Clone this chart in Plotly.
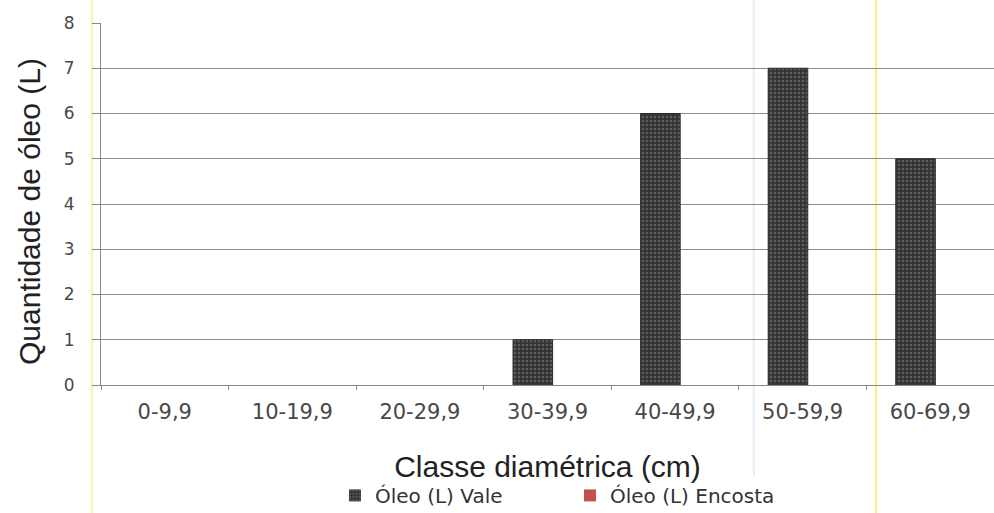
import plotly.graph_objects as go

# Diameter classes and oil volume per class
classes = ["0-9,9", "10-19,9", "20-29,9", "30-39,9", "40-49,9", "50-59,9", "60-69,9"]
oleo_vale = [0, 0, 0, 1, 6, 7, 5]
oleo_encosta = [0, 0, 0, 0, 0, 0, 0]
y_ticks = [0, 1, 2, 3, 4, 5, 6, 7, 8]

fig = go.Figure()
fig.add_trace(go.Bar(
    x=classes, y=oleo_vale, name="Óleo (L) Vale",
    width=0.31, offset=-0.27,
    marker=dict(
        color="#3a3a3a",
        line=dict(color="#2a2a2a", width=[1 if v else 0 for v in oleo_vale]),
        pattern=dict(shape=".", fgcolor="#8a8a8a", bgcolor="#333333", size=4, solidity=0.35),
    ),
))
fig.add_trace(go.Bar(
    x=classes, y=oleo_encosta, name="Óleo (L) Encosta",
    width=0.31, offset=0.06,
    marker=dict(color="#c0504d", line=dict(width=0)),
))

# Faint vertical page rules
for xp, col in [(-0.01, "#fbf5b0"), (0.731, "#e4ecf7"), (0.868, "#f3ee8a")]:
    fig.add_shape(type="line", xref="paper", yref="paper", x0=xp, x1=xp, y0=-0.4, y1=1.1,
                  line=dict(color=col, width=2), layer="below")

# Vertical axis title
fig.add_annotation(
    text="Quantidade de óleo (L)", textangle=-90,
    xref="paper", yref="paper", x=-0.0795, y=0.478, xanchor="center", yanchor="middle",
    showarrow=False, font=dict(family="Liberation Sans, Arial", size=30, color="#222222"),
)

fig.update_layout(
    width=994, height=513,
    margin=dict(l=101, r=0, t=23, b=128, autoexpand=False),
    paper_bgcolor="white", plot_bgcolor="white",
    font=dict(family="Liberation Sans, Arial", color="#333333"),
    barmode="overlay",
    showlegend=True,
    legend=dict(orientation="h", x=0.262, xanchor="left", y=-0.305, yanchor="middle",
                font=dict(family="DejaVu Sans", size=20, color="#333333"),
                entrywidth=190, entrywidthmode="pixels",
                traceorder="normal"),
)
fig.update_xaxes(
    type="category", range=[-0.5, 6.5], automargin=False,
    showline=True, linecolor="#888888", linewidth=1,
    ticks="outside", ticklen=4, tickcolor="#888888", tickson="boundaries",
    ticklabelstandoff=8,
    tickfont=dict(family="DejaVu Sans", size=21, color="#484848"),
    showgrid=False,
    title=dict(text="Classe diamétrica (cm)", font=dict(family="Liberation Sans, Arial", size=30, color="#222222"),
               standoff=32),
)
fig.update_yaxes(
    range=[0, 8], tickvals=y_ticks, automargin=False,
    showline=True, linecolor="#888888", linewidth=1,
    ticks="outside", ticklen=8, tickcolor="#888888",
    ticklabelstandoff=14,
    showgrid=True, gridcolor="#8c8c8c", gridwidth=1,
    zeroline=False,
    tickfont=dict(family="DejaVu Sans", size=17, color="#484848"),
)

fig.write_html("out.html")
